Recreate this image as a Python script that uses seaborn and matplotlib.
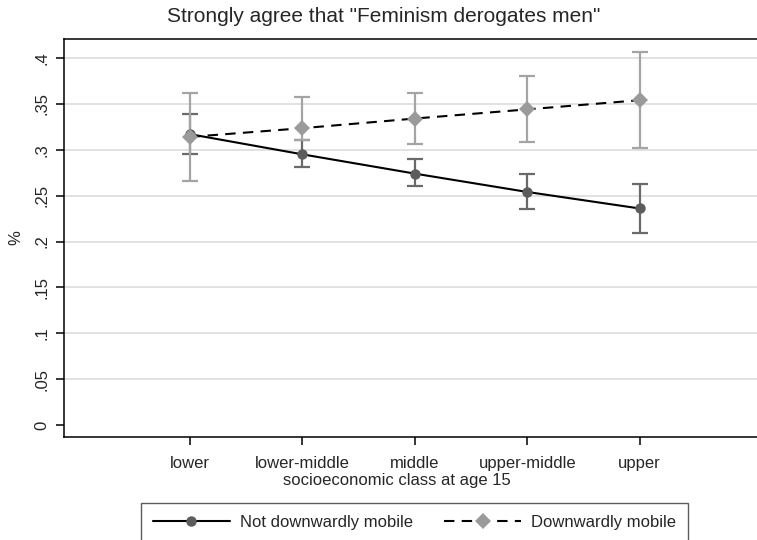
import matplotlib
matplotlib.use("Agg")
import matplotlib.pyplot as plt
import seaborn as sns
import pandas as pd
import numpy as np

# Predicted share strongly agreeing, by class at age 15
classes = ["lower", "lower-middle", "middle", "upper-middle", "upper"]

not_mobile = [0.317, 0.295, 0.274, 0.254, 0.236]
not_mobile_lo = [0.295, 0.281, 0.2605, 0.235, 0.209]
not_mobile_hi = [0.339, 0.311, 0.2895, 0.274, 0.2625]

down_mobile = [0.314, 0.3235, 0.334, 0.344, 0.354]
down_mobile_lo = [0.2655, 0.3105, 0.306, 0.308, 0.3015]
down_mobile_hi = [0.362, 0.3575, 0.362, 0.380, 0.407]

series_names = ["Not downwardly mobile", "Downwardly mobile"]
y_ticks = [0, 0.05, 0.1, 0.15, 0.2, 0.25, 0.3, 0.35, 0.4]
y_tick_labels = ["0", ".05", ".1", ".15", ".2", ".25", ".3", ".35", ".4"]

pos = np.arange(len(classes))
df = pd.DataFrame({
    "pos": np.concatenate([pos, pos]),
    "value": not_mobile + down_mobile,
    "lo": not_mobile_lo + down_mobile_lo,
    "hi": not_mobile_hi + down_mobile_hi,
    "group": [series_names[0]] * len(classes) + [series_names[1]] * len(classes),
})

sns.set_theme(style="white")
plt.rcParams["font.family"] = ["Liberation Sans", "DejaVu Sans"]

W, H = 757, 540
fig = plt.figure(figsize=(W / 100, H / 100), dpi=100)
ax = fig.add_axes([64 / W, 1 - 437 / H, 1 - 64 / W + 0.01, (437 - 39) / H])

styles = {
    series_names[0]: dict(mcolor="#5c5c5c", ecolor="#6a6a6a", marker="o", ms=7.5, ls="-"),
    series_names[1]: dict(mcolor="#9a9a9a", ecolor="#a4a4a4", marker="D", ms=8.5, ls=(0, (5, 3.5))),
}

# confidence intervals
for name in series_names:
    sub = df[df["group"] == name]
    st = styles[name]
    ax.errorbar(sub["pos"], sub["value"],
                yerr=[sub["value"] - sub["lo"], sub["hi"] - sub["value"]],
                fmt="none", ecolor=st["ecolor"], elinewidth=1.6,
                capsize=5.5, capthick=1.6, zorder=2)

# point estimates joined by lines
sns.lineplot(data=df, x="pos", y="value", hue="group", style="group",
             hue_order=series_names, style_order=series_names,
             palette=["black", "black"], dashes=[(1, 0), (5, 3.5)],
             markers=["o", "D"], ax=ax, legend=False, linewidth=1.5,
             zorder=3, estimator=None, errorbar=None)
for line, name in zip(ax.lines[-2:], series_names):
    st = styles[name]
    line.set_marker(st["marker"])
    line.set_markersize(st["ms"])
    line.set_markerfacecolor(st["mcolor"])
    line.set_markeredgecolor(st["mcolor"])
    line.set_markeredgewidth(0)

ax.set_xlim(-126 / 112.5, 4 + 125 / 112.5)
ax.set_ylim(-12 / 917.5, 0.4 + 19 / 917.5)
ax.set_xticks(pos)
ax.set_xticklabels(classes, fontsize=12)
ax.set_yticks(y_ticks)
ax.set_yticklabels(y_tick_labels, fontsize=12, rotation=90, va="center")
ax.tick_params(axis="both", direction="out", length=5.5, width=1.1,
               color="black", pad=5, bottom=True, left=True,
               top=False, right=False)
ax.tick_params(axis="x", pad=8)
ax.set_xlabel("")
ax.set_ylabel("")

ax.yaxis.grid(True, color="#e1e1e1", linewidth=1.4)
ax.xaxis.grid(False)
ax.get_ygridlines()[0].set_visible(False)
ax.set_axisbelow(True)

for side in ["left", "top", "bottom"]:
    ax.spines[side].set_visible(True)
    ax.spines[side].set_color("black")
    ax.spines[side].set_linewidth(1.1)
ax.spines["right"].set_visible(False)

fig.text(384 / W, 1 - 16 / H, 'Strongly agree that "Feminism derogates men"',
         ha="center", va="center", fontsize=15)
fig.text(397 / W, 1 - 481 / H, "socioeconomic class at age 15",
         ha="center", va="center", fontsize=12)
fig.text(16 / W, 1 - 238 / H, "%", ha="center", va="center",
         rotation=90, fontsize=12)

# legend
handles = []
for name in series_names:
    st = styles[name]
    h, = ax.plot([], [], color="black", linestyle=st["ls"], linewidth=1.5,
                 marker=st["marker"], markersize=st["ms"],
                 markerfacecolor=st["mcolor"], markeredgewidth=0)
    handles.append(h)
leg = fig.legend(handles, series_names, loc="upper left",
                 bbox_to_anchor=(141 / W, 1 - 503 / H), ncol=2,
                 fontsize=12, frameon=True, fancybox=False,
                 handlelength=4.6, handletextpad=0.6, columnspacing=1.9,
                 borderpad=0.72, borderaxespad=0)
leg.get_frame().set_edgecolor("#333333")
leg.get_frame().set_linewidth(1.0)

fig.savefig("out.png", dpi=100)
